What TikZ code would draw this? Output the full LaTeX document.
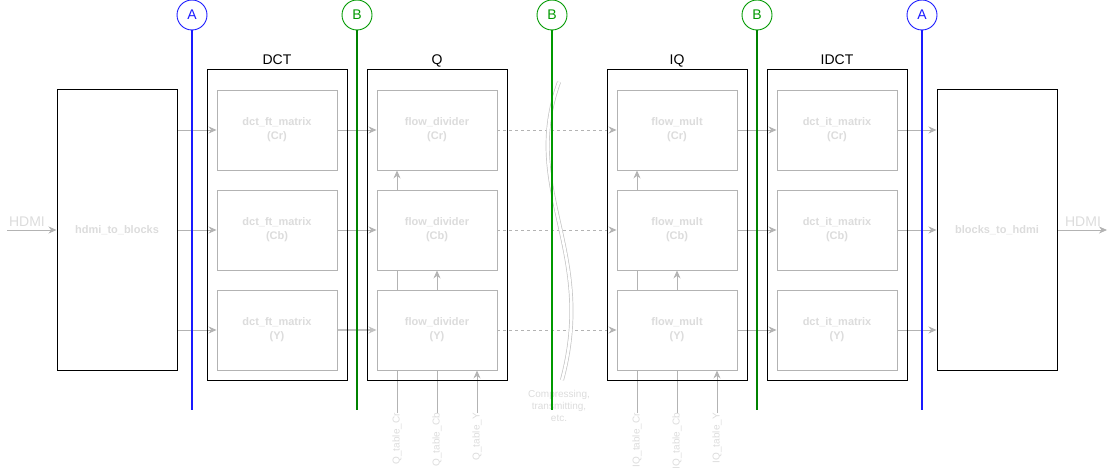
\documentclass[tikz,border=0pt]{standalone}
\usepackage{fontspec}
\setmainfont{Liberation Sans}
\usetikzlibrary{arrows.meta,positioning,backgrounds}
\definecolor{boxgray}{HTML}{B3B3B3}
\definecolor{txtgray}{HTML}{DCDCDC}
\definecolor{lineblue}{HTML}{1A1AFF}
\definecolor{linegreen}{HTML}{009900}
\definecolor{curvegray}{HTML}{C4C4C4}

\tikzset{
  outerbox/.style={draw, line width=1pt, minimum width=140pt, minimum height=310pt, inner sep=0pt},
  bigbox/.style={draw, line width=1pt, minimum width=120pt, minimum height=280pt,
    text=txtgray, font=\fontsize{11}{14}\selectfont\bfseries},
  innerbox/.style={draw=boxgray, fill=white, line width=0.9pt, minimum width=120pt, minimum height=80pt,
    align=center, text=txtgray, font=\fontsize{11}{14}\selectfont\bfseries},
  boxtitle/.style={inner sep=0pt, text height=10pt, text depth=0pt, font=\fontsize{14}{16}\selectfont},
  cutcircle/.style={circle, draw, line width=0.9pt, minimum size=30pt, inner sep=0pt, font=\fontsize{14}{16}\selectfont},
  cutline/.style={line width=1.2pt},
  flow/.style={draw=boxgray, line width=0.9pt, -{Stealth[length=8pt,width=7pt]}},
  tablabel/.style={rotate=90, anchor=east, inner sep=0pt, text=txtgray, font=\fontsize{10}{12}\selectfont},
  hdmitext/.style={inner sep=0pt, text=txtgray, font=\fontsize{14}{16}\selectfont},
}

\begin{document}
\begin{tikzpicture}[x=1pt, y=-1pt]
    \useasboundingbox (0,0) rectangle (1117,468);

    % source and sink
    \node (h2b) [bigbox] at (117,230) {hdmi\_to\_blocks};
    \node (b2h) [bigbox] at (997,230) {blocks\_to\_hdmi};
    \coordinate (hdmiin) at (7,230);
    \coordinate (hdmiout) at (1107,230);
    \node (hdmiinlabel) [hdmitext] at (27,222) {HDMI};
    \node (hdmioutlabel) [hdmitext] at (1083,222) {HDMI};

    % stages
    \node (dct) [outerbox] at (277,225) {};
    \node (q) [outerbox] at (437,225) {};
    \node (iq) [outerbox] at (677,225) {};
    \node (idct) [outerbox] at (837,225) {};
    \node (dcttitle) [boxtitle, above=5pt of dct] {DCT};
    \node (qtitle) [boxtitle, above=5pt of q] {Q};
    \node (iqtitle) [boxtitle, above=5pt of iq] {IQ};
    \node (idcttitle) [boxtitle, above=5pt of idct] {IDCT};

    \foreach \ch/\y in {Cr/130, Cb/230, Y/330} {
        \node (dct\ch) [innerbox] at (277,\y) {dct\_ft\_matrix\\(\ch)};
        \node (q\ch) [innerbox] at (437,\y) {flow\_divider\\(\ch)};
        \node (iq\ch) [innerbox] at (677,\y) {flow\_mult\\(\ch)};
        \node (idct\ch) [innerbox] at (837,\y) {dct\_it\_matrix\\(\ch)};
    }

    % quantisation tables
    \node (qtCr) [tablabel] at (397,413) {Q\_table\_Cr};
    \node (qtCb) [tablabel] at (437,413) {Q\_table\_Cb};
    \node (qtY) [tablabel] at (477,413) {Q\_table\_Y};
    \node (iqtCr) [tablabel] at (637,413) {IQ\_table\_Cr};
    \node (iqtCb) [tablabel] at (677,413) {IQ\_table\_Cb};
    \node (iqtY) [tablabel] at (717,413) {IQ\_table\_Y};

    \node (compress) [align=center, inner sep=0pt, text=txtgray, font=\fontsize{10}{12}\selectfont]
        at (559,406) {Compressing,\\transmitting,\\etc.};

    \begin{scope}[on background layer]
        \draw[flow] (hdmiin) -- (h2b);
        \draw[flow] (b2h) -- (hdmiout);
        \foreach \ch in {Cr, Cb} {
            \draw[flow] (h2b.east |- dct\ch) -- (dct\ch);
            \draw[flow] (dct\ch) -- (q\ch);
            \draw[flow, dash pattern=on 3pt off 3pt] (q\ch) -- (iq\ch);
            \draw[flow] (iq\ch) -- (idct\ch);
            \draw[flow] (idct\ch) -- (b2h.west |- idct\ch);
        }
        \draw[flow] (h2b.east |- dctY) -- (dctY);
        \draw[flow, line width=1.8pt, draw=boxgray!80] (dctY) -- (qY);
        \draw[flow, dash pattern=on 3pt off 3pt] (qY) -- (iqY);
        \draw[flow] (iqY) -- (idctY);
        \draw[flow] (idctY) -- (b2h.west |- idctY);

        \draw[flow] (qtCr.east) -- (qtCr.east |- qCr.south);
        \draw[flow] (qtCb.east) -- (qtCb.east |- qCb.south);
        \draw[flow] (qtY.east) -- (qtY.east |- qY.south);
        \draw[flow] (iqtCr.east) -- (iqtCr.east |- iqCr.south);
        \draw[flow] (iqtCb.east) -- (iqtCb.east |- iqCb.south);
        \draw[flow] (iqtY.east) -- (iqtY.east |- iqY.south);
    \end{scope}

    % channel break
    \draw[curvegray, line width=0.7pt, double=white, double distance=2.6pt]
        (559,82) .. controls (520,190) and (597,250) .. (562,380);

    % cut lines
    \node (cutA1) [cutcircle, draw=lineblue, text=lineblue] at (192,15) {A};
    \node (cutB1) [cutcircle, draw=linegreen, text=linegreen] at (357,15) {B};
    \node (cutB2) [cutcircle, draw=linegreen, text=linegreen] at (552,15) {B};
    \node (cutB3) [cutcircle, draw=linegreen, text=linegreen] at (757,15) {B};
    \node (cutA2) [cutcircle, draw=lineblue, text=lineblue] at (922,15) {A};
    \coordinate (endA1) at (192,410);
    \coordinate (endB1) at (357,410);
    \coordinate (endB2) at (552,410);
    \coordinate (endB3) at (757,410);
    \coordinate (endA2) at (922,410);
    \draw[cutline, lineblue] (cutA1) -- (endA1);
    \draw[cutline, linegreen!85!black] (cutB1) -- (endB1);
    \draw[cutline, linegreen, line width=1.3pt] (cutB2) -- (endB2);
    \draw[cutline, linegreen!85!black] (cutB3) -- (endB3);
    \draw[cutline, lineblue] (cutA2) -- (endA2);

\end{tikzpicture}
\end{document}
